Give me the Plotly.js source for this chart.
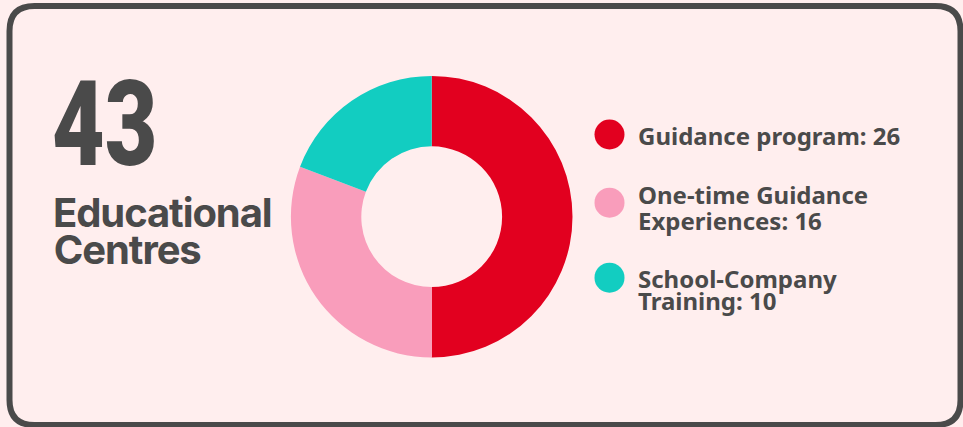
<!DOCTYPE html>
<html><head><meta charset="utf-8">
<script src="https://cdn.plot.ly/plotly-3.0.1.min.js"></script>
<style>html,body{margin:0;padding:0;background:#ffeeee;}#chart{width:963px;height:427px;}</style>
</head><body><div id="chart"></div>
<script>
const categories = ["Guidance program", "One-time Guidance Experiences", "School-Company Training"];
const legendLines = [["Guidance program: 26"], ["One-time Guidance", "Experiences: 16"], ["School-Company", "Training: 10"]];
const values = [26, 16, 10];
const colors = ["#e2001f", "#f99dbb", "#12cdc1"];
const bigNumber = "43";
const subtitleLines = ["Educational", "Centres"];

const W = 963, H = 427;
const px = x => x / W;
const py = y => 1 - y / H;
const textColor = "#4a4a4a";

function roundedRect(x0, y0, x1, y1, r) {
  const rx = r / W, ry = r / H;
  const X0 = px(x0), X1 = px(x1), Y0 = py(y0), Y1 = py(y1);
  return `M ${X0 + rx} ${Y0} L ${X1 - rx} ${Y0} Q ${X1} ${Y0} ${X1} ${Y0 - ry} ` +
    `L ${X1} ${Y1 + ry} Q ${X1} ${Y1} ${X1 - rx} ${Y1} L ${X0 + rx} ${Y1} ` +
    `Q ${X0} ${Y1} ${X0} ${Y1 + ry} L ${X0} ${Y0 - ry} Q ${X0} ${Y0} ${X0 + rx} ${Y0} Z`;
}

const shapes = [{
  type: "path", xref: "paper", yref: "paper",
  path: roundedRect(9.5, 6, 960.5, 425, 25),
  line: {color: "#4a4a4a", width: 6}, fillcolor: "#ffeeee", layer: "below"
}];

const annotations = [];
annotations.push({
  xref: "paper", yref: "paper", x: px(50), y: py(125), xanchor: "left", yanchor: "middle",
  text: bigNumber, showarrow: false,
  font: {family: "Roboto, sans-serif", size: 118, color: textColor, weight: 900}
});
const subY = [212, 249];
const subX = [45, 48];
subtitleLines.forEach((t, i) => annotations.push({
  xref: "paper", yref: "paper", x: px(subX[i]), y: py(subY[i]), xanchor: "left", yanchor: "middle",
  text: t, showarrow: false,
  font: {family: "Inter, Roboto, sans-serif", size: 40, color: textColor, weight: 700}
}));

const dotY = [134.5, 202.7, 277.7];
const lineY = [[135], [194.5, 220], [278, 300]];
categories.forEach((c, i) => {
  shapes.push({
    type: "circle", xref: "paper", yref: "paper",
    x0: px(609.5 - 15), x1: px(609.5 + 15), y0: py(dotY[i] + 15), y1: py(dotY[i] - 15),
    fillcolor: colors[i], line: {width: 0}
  });
  legendLines[i].forEach((t, j) => annotations.push({
    xref: "paper", yref: "paper", x: px(636), y: py(lineY[i][j]), xanchor: "left", yanchor: "middle",
    text: t, showarrow: false,
    font: {family: "Noto Sans, sans-serif", size: 24, color: textColor, weight: 700}
  }));
});

const cx = 431.7, cy = 216.7, R = 140.8;
const data = [{
  type: "pie", labels: categories, values: values, sort: false,
  direction: "clockwise", rotation: 0, hole: 0.5,
  marker: {colors: colors, line: {width: 0}},
  textinfo: "none", hoverinfo: "none", showlegend: false,
  domain: {x: [px(cx - R), px(cx + R)], y: [py(cy + R), py(cy - R)]}
}];

const layout = {
  width: W, height: H, margin: {l: 0, r: 0, t: 0, b: 0},
  paper_bgcolor: "#ffeeee", plot_bgcolor: "#ffeeee",
  showlegend: false, shapes: shapes, annotations: annotations
};
Plotly.newPlot("chart", data, layout, {displayModeBar: false, staticPlot: true}).then(gd => {
  // condense the big number (narrow display face) and tighten subtitle tracking
  const big = gd.querySelector('g.annotation[data-index="0"] text');
  if (big) {
    big.style.transformBox = "fill-box";
    big.style.transformOrigin = "left center";
    big.style.transform = "scaleX(0.77)";
  }
  [1, 2].forEach(k => {
    const t = gd.querySelector(`g.annotation[data-index="${k}"] text`);
    if (t) t.style.letterSpacing = "-1.1px";
  });
});
</script></body></html>
